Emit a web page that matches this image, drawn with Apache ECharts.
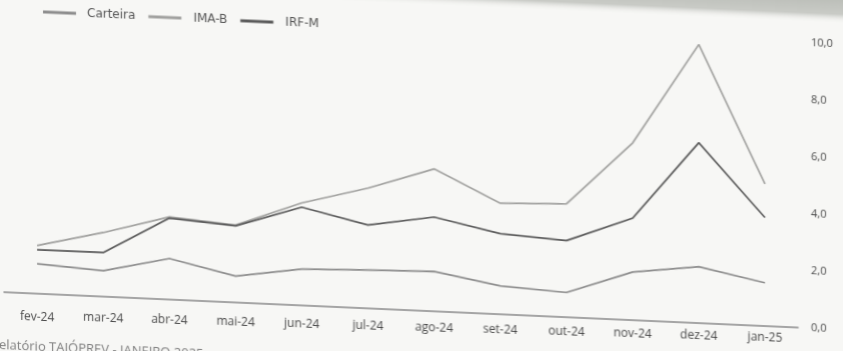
<!DOCTYPE html>
<html>
<head>
<meta charset="utf-8">
<script src="https://cdn.jsdelivr.net/npm/echarts@6/dist/echarts.min.js"></script>
<style>
  html, body { margin: 0; padding: 0; width: 843px; height: 351px; overflow: hidden; background: #f7f7f5; }
  #chart {
    position: absolute; left: 0; top: -40px;
    width: 843px; height: 430px;
    transform-origin: 0 0;
    transform: skewY(2.55deg);
  }
</style>
</head>
<body>
<div id="chart"></div>
<script>
// Monthly categories (fev-24 .. jan-25)
const categories = ['fev-24', 'mar-24', 'abr-24', 'mai-24', 'jun-24', 'jul-24',
                    'ago-24', 'set-24', 'out-24', 'nov-24', 'dez-24', 'jan-25'];

// Series values (%)
const carteira = [1.03, 0.89, 1.42, 0.91, 1.26, 1.33, 1.38, 0.98, 0.85, 1.67, 1.96, 1.50];
const imaB     = [1.67, 2.23, 2.88, 2.70, 3.58, 4.20, 4.98, 3.88, 3.96, 6.20, 9.76, 4.97];
const irfM     = [1.52, 1.53, 2.84, 2.67, 3.43, 2.91, 3.29, 2.81, 2.67, 3.56, 6.31, 3.79];

// Value axis ticks
const yTicks = [0, 2, 4, 6, 8, 10];

const footerText = 'Relatório TAIÓPREV - JANEIRO 2025';

const chart = echarts.init(document.getElementById('chart'), null, { renderer: 'canvas' });

function fmt(v) { return v.toFixed(1).replace('.', ','); }

// The label row of the printed page bends less than the axis line,
// so each month label gets its own top padding.
const labelRich = {};
categories.forEach(function (c, i) {
  const n = categories.length - 1;
  labelRich['m' + i] = {
    fontFamily: 'Open Sans', fontSize: 12, color: '#4a4a4a',
    padding: [Math.round(11.5 * (n - i) / n), 0, 0, 0]
  };
});

const legendFont = { fontFamily: 'DejaVu Sans', fontSize: 12, color: '#555' };

const option = {
  backgroundColor: '#f7f7f5',
  animation: false,
  legend: {
    data: ['Carteira', 'IMA-B', 'IRF-M'],
    left: 43,
    top: 44,
    padding: 0,
    icon: 'rect',
    itemWidth: 33,
    itemHeight: 3,
    itemGap: 13,
    formatter: function (name) {
      return name === 'Carteira' ? '{a|' + name + '}' : '{b|' + name + '}';
    },
    textStyle: {
      fontFamily: 'DejaVu Sans', fontSize: 12, color: '#555',
      rich: {
        a: Object.assign({ padding: [0, 0, 0, 6] }, legendFont),
        b: Object.assign({ padding: [0, 5, 0, 7] }, legendFont)
      }
    }
  },
  grid: { left: 4, right: 45, top: 46.5, bottom: 98.5, containLabel: false },
  xAxis: {
    type: 'category',
    data: categories,
    boundaryGap: true,
    axisLine: { lineStyle: { color: '#8a8a8a', width: 1.5 } },
    axisTick: { show: false },
    axisLabel: {
      interval: 0,
      hideOverlap: false,
      margin: 6,
      formatter: function (value, index) { return '{m' + index + '|' + value + '}'; },
      rich: labelRich
    }
  },
  yAxis: {
    type: 'value',
    position: 'right',
    min: yTicks[0],
    max: yTicks[yTicks.length - 1],
    interval: 2,
    axisLine: { show: false },
    axisTick: { show: false },
    splitLine: { show: false },
    axisLabel: {
      fontFamily: 'Open Sans', fontSize: 11, color: '#4a4a4a', margin: 13,
      formatter: fmt
    }
  },
  graphic: [
    {
      type: 'rect',
      silent: true,
      z: -1,
      shape: { x: 0, y: 0, width: 843, height: 26 },
      style: {
        fill: new echarts.graphic.LinearGradient(0, 0, 0, 1, [
          { offset: 0, color: 'rgba(186,189,183,1)' },
          { offset: 0.65, color: 'rgba(196,198,193,0.9)' },
          { offset: 1, color: 'rgba(247,247,245,0)' }
        ])
      }
    },
    {
      type: 'text',
      silent: true,
      left: -9,
      top: 379,
      style: {
        text: footerText,
        font: '13px "Open Sans"',
        fill: '#808080'
      }
    }
  ],
  series: [
    {
      name: 'Carteira', type: 'line', data: carteira, symbol: 'none',
      lineStyle: { color: '#8e8e8e', width: 1.7 }, itemStyle: { color: '#8e8e8e' }
    },
    {
      name: 'IMA-B', type: 'line', data: imaB, symbol: 'none',
      lineStyle: { color: '#a2a2a0', width: 1.7 }, itemStyle: { color: '#a2a2a0' }
    },
    {
      name: 'IRF-M', type: 'line', data: irfM, symbol: 'none',
      lineStyle: { color: '#5c5c5c', width: 1.7 }, itemStyle: { color: '#5c5c5c' }
    }
  ]
};

chart.setOption(option);
</script>
</body>
</html>
